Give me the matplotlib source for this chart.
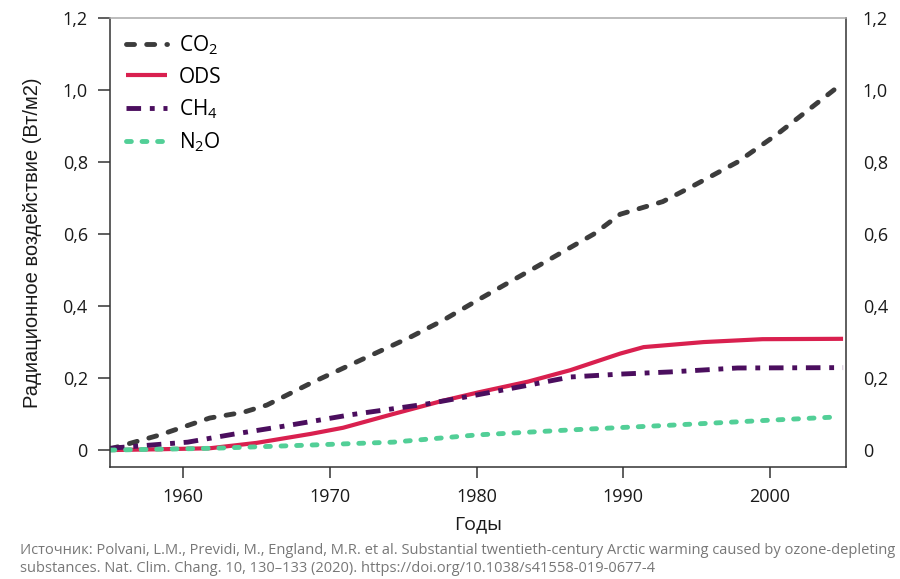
import matplotlib
matplotlib.use("Agg")
import matplotlib.pyplot as plt
import numpy as np

plt.rcParams['font.family'] = ['Open Sans', 'DejaVu Sans']
plt.rcParams['mathtext.fontset'] = 'custom'
plt.rcParams['mathtext.rm'] = 'Open Sans'
plt.rcParams['mathtext.it'] = 'Open Sans'

# Data
co2_years = [1955, 1958.4, 1961.8, 1964.1, 1965.7, 1968.7, 1972.1, 1975.5, 1977.7, 1980.1,
             1985, 1988, 1989.8, 1992.7, 1994.6, 1997.8, 2000.5, 2005]
co2_vals = [0.003, 0.042, 0.089, 0.105, 0.125, 0.186, 0.25, 0.314, 0.36, 0.417,
            0.53, 0.6, 0.655, 0.69, 0.73, 0.80, 0.877, 1.02]

ods_years = [1955, 1958, 1961.8, 1965, 1968.7, 1970.9, 1974.3, 1977.7, 1980.1, 1983.5,
             1986.4, 1989.8, 1991.4, 1995.5, 1999.5, 2005]
ods_vals = [0.0, 0.002, 0.005, 0.02, 0.045, 0.062, 0.1, 0.137, 0.16, 0.19,
            0.222, 0.268, 0.286, 0.300, 0.308, 0.309]

ch4_years = [1955, 1960.3, 1963.4, 1966.8, 1971.4, 1976.6, 1980, 1983.5, 1986.4, 1989.8,
             1993.2, 1997.8, 2005]
ch4_vals = [0.005, 0.022, 0.044, 0.066, 0.098, 0.128, 0.153, 0.18, 0.203, 0.211,
            0.217, 0.228, 0.229]

n2o_years = [1955, 1962, 1968.7, 1974.3, 1980, 1986.4, 1993.2, 2000, 2004.6]
n2o_vals = [0.0, 0.005, 0.014, 0.022, 0.042, 0.056, 0.069, 0.083, 0.092]

xticks = [1960, 1970, 1980, 1990, 2000]
yticks = [0, 0.2, 0.4, 0.6, 0.8, 1.0, 1.2]
ytick_labels = ['0', '0,2', '0,4', '0,6', '0,8', '1,0', '1,2']

fig = plt.figure(figsize=(9, 5.79), dpi=100)
ax = fig.add_axes([110/900, 1-467/579, (846-110)/900, (467-18)/579])

l_co2, = ax.plot(co2_years, co2_vals, color='#3c3c3c', lw=3.5, dash_capstyle='round',
                 label='CO$_2$')
l_co2.set_dashes([1.65, 2.5])
l_ods, = ax.plot(ods_years, ods_vals, color='#d9204f', lw=3.0, solid_capstyle='butt',
                 label='ODS')
l_ch4, = ax.plot(ch4_years, ch4_vals, color='#4b0e5e', lw=3.5, dash_capstyle='butt',
                 label='CH$_4$')
l_ch4.set_dashes([3.0, 1.8, 1.0, 1.8])
l_n2o, = ax.plot(n2o_years, n2o_vals, color='#52cf97', lw=3.5, dash_capstyle='round',
                 label='N$_2$O')
l_n2o.set_dashes([1.0, 2.2])

ax.set_xlim(1955, 2005.2)
ax.set_ylim(-0.047, 1.2)
ax.set_xticks(xticks)
ax.set_xticklabels([str(x) for x in xticks])
ax.set_yticks(yticks)
ax.set_yticklabels(ytick_labels)

for s in ['left', 'right', 'bottom']:
    ax.spines[s].set_color('#333333')
    ax.spines[s].set_linewidth(1.1)
ax.spines['top'].set_color('#aaaaaa')
ax.spines['top'].set_linewidth(1.1)

ax.tick_params(axis='x', direction='out', length=8, width=1.1, color='#333333',
               labelsize=13, pad=7, labelcolor='#1a1a1a')
ax.tick_params(axis='y', direction='out', length=9, width=1.1, color='#333333',
               labelsize=13, pad=7, labelcolor='#1a1a1a')

ax2 = ax.twinx()
ax2.set_ylim(ax.get_ylim())
ax2.set_yticks(yticks)
ax2.set_yticklabels(ytick_labels)
ax2.tick_params(axis='y', length=0, labelsize=13, pad=12, labelcolor='#1a1a1a')
for s in ax2.spines.values():
    s.set_visible(False)

ax.set_xlabel('Годы', fontsize=14, labelpad=7, color='#1a1a1a')
ax.set_ylabel('Радиационное воздействие (Вт/м2)', fontsize=14.5, labelpad=15,
              family=['Liberation Sans', 'DejaVu Sans'], color='#1a1a1a')

leg = ax.legend(loc='upper left', bbox_to_anchor=(0.0, 1.0), frameon=False,
                fontsize=15, handlelength=2.0, handletextpad=0.55, labelspacing=0.45,
                borderaxespad=0.35, borderpad=0.4)

fig.text(20/900, 1-551/579, 'Источник: Polvani, L.M., Previdi, M., England, M.R. et al. Substantial twentieth-century Arctic warming caused by ozone-depleting',
         fontsize=10.5, color='#777777', va='center', ha='left')
fig.text(20/900, 1-568/579, 'substances. Nat. Clim. Chang. 10, 130–133 (2020). https://doi.org/10.1038/s41558-019-0677-4',
         fontsize=10.5, color='#777777', va='center', ha='left')

fig.savefig('out.png', dpi=100)
